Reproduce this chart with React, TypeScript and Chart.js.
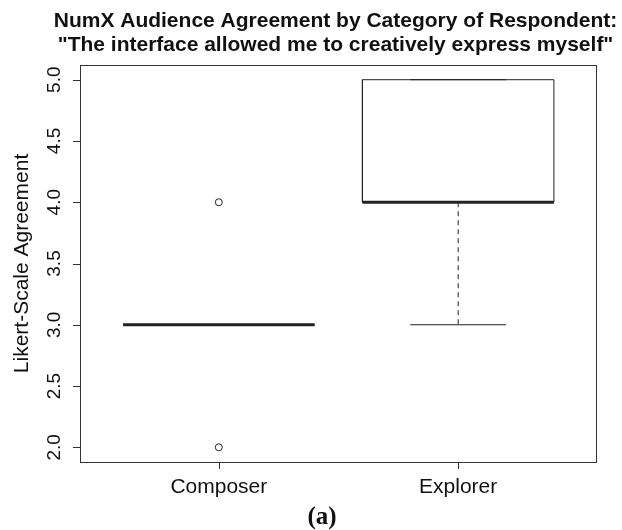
import React, { useEffect, useRef } from "react";
import { Chart, registerables } from "chart.js";

Chart.register(...registerables);

// ---- Data ----
const categories = ["Composer", "Explorer"];
const q1 = [3, 4];
const medians = [3, 4];
const q3 = [3, 5];
const whiskerLow = [3, 3];
const whiskerHigh = [3, 5];
const outliers: number[][] = [[2, 4], []];
const yTicks = [2.0, 2.5, 3.0, 3.5, 4.0, 4.5, 5.0];
const titleLines = [
  "NumX Audience Agreement by Category of Respondent:",
  '"The interface allowed me to creatively express myself"',
];
const yTitle = "Likert-Scale Agreement";
const caption = "(a)";

const BOX_HALF = 0.4;
const CAP_HALF = 0.2;
const INK = "#222";

function buildDatasets() {
  const ds: any[] = [];
  const line = (data: any[], width: number, dash: number[] = []) => ({
    type: "scatter",
    data,
    showLine: true,
    borderColor: INK,
    borderWidth: width,
    borderDash: dash,
    pointRadius: 0,
    pointHoverRadius: 0,
    fill: false,
    tension: 0,
  });
  categories.forEach((_, i) => {
    const x = i + 1;
    // outliers
    ds.push({
      type: "scatter",
      data: outliers[i].map((v) => ({ x, y: v })),
      pointRadius: 3.5,
      pointBorderWidth: 1,
      pointBackgroundColor: "#fff",
      pointBorderColor: INK,
      showLine: false,
    });
    // median
    ds.push(line([{ x: x - BOX_HALF, y: medians[i] }, { x: x + BOX_HALF, y: medians[i] }], 3));
    // box
    ds.push(
      line(
        [
          { x: x - BOX_HALF, y: q1[i] },
          { x: x + BOX_HALF, y: q1[i] },
          { x: x + BOX_HALF, y: q3[i] },
          { x: x - BOX_HALF, y: q3[i] },
          { x: x - BOX_HALF, y: q1[i] },
        ],
        1
      )
    );
    // whiskers
    if (whiskerLow[i] < q1[i]) ds.push(line([{ x, y: q1[i] }, { x, y: whiskerLow[i] }], 1, [5, 4]));
    if (whiskerHigh[i] > q3[i]) ds.push(line([{ x, y: q3[i] }, { x, y: whiskerHigh[i] }], 1, [5, 4]));
    // caps
    ds.push(line([{ x: x - CAP_HALF, y: whiskerLow[i] }, { x: x + CAP_HALF, y: whiskerLow[i] }], 1));
    ds.push(line([{ x: x - CAP_HALF, y: whiskerHigh[i] }, { x: x + CAP_HALF, y: whiskerHigh[i] }], 1));
  });
  return ds;
}

const rAxesPlugin = {
  id: "rAxes",
  afterDraw(chart: any) {
    const { ctx, chartArea: a, scales } = chart;
    const xs = scales.x;
    const ys = scales.y;
    ctx.save();
    ctx.strokeStyle = "#333";
    ctx.lineWidth = 1;
    // frame
    ctx.strokeRect(Math.round(a.left) + 0.5, Math.round(a.top) + 0.5, Math.round(a.right - a.left) - 1, Math.round(a.bottom - a.top));
    // y ticks
    ctx.fillStyle = "#111";
    ctx.font = '19px "Liberation Sans", Arial, sans-serif';
    ctx.textAlign = "center";
    ctx.textBaseline = "alphabetic";
    yTicks.forEach((v) => {
      const py = Math.round(ys.getPixelForValue(v)) + 0.5;
      ctx.beginPath();
      ctx.moveTo(a.left, py);
      ctx.lineTo(a.left - 7, py);
      ctx.stroke();
      ctx.save();
      ctx.translate(60, ys.getPixelForValue(v));
      ctx.rotate(-Math.PI / 2);
      ctx.fillText(v.toFixed(1), 0, 0);
      ctx.restore();
    });
    // x ticks
    ctx.font = '21px "Liberation Sans", Arial, sans-serif';
    categories.forEach((c, i) => {
      const px = Math.round(xs.getPixelForValue(i + 1)) + 0.5;
      ctx.beginPath();
      ctx.moveTo(px, a.bottom);
      ctx.lineTo(px, a.bottom + 7);
      ctx.stroke();
      ctx.fillText(c, xs.getPixelForValue(i + 1), 493);
    });
    // y title
    ctx.save();
    ctx.translate(28, (a.top + a.bottom) / 2);
    ctx.rotate(-Math.PI / 2);
    ctx.font = '21px "Liberation Sans", Arial, sans-serif';
    ctx.fillText(yTitle, 0, 0);
    ctx.restore();
    // title
    ctx.font = 'bold 21px "Liberation Sans", Arial, sans-serif';
    ctx.fillStyle = "#111";
    const cx = (a.left + a.right) / 2 - 3;
    ctx.fillText(titleLines[0], cx, 27);
    ctx.fillText(titleLines[1], cx, 51);
    // caption
    ctx.font = 'bold 25px "Liberation Serif", "Times New Roman", serif';
    ctx.fillText(caption, 322, 524);
    ctx.restore();
  },
};

export default function App() {
  const ref = useRef<HTMLCanvasElement>(null);
  useEffect(() => {
    document.body.style.margin = "0";
    const chart = new Chart(ref.current as HTMLCanvasElement, {
      type: "scatter",
      data: { datasets: buildDatasets() },
      options: {
        animation: false,
        responsive: false,
        devicePixelRatio: 1,
        layout: { padding: { left: 80, top: 65, right: 25, bottom: 68 } },
        scales: {
          x: { type: "linear", min: 0.42, max: 2.58, display: false },
          y: { type: "linear", min: 1.88, max: 5.12, display: false },
        },
        plugins: { legend: { display: false }, tooltip: { enabled: false }, title: { display: false } },
        events: [],
      },
      plugins: [rAxesPlugin],
    } as any);
    return () => chart.destroy();
  }, []);
  return (
    <div style={{ position: "absolute", left: 0, top: 0, width: 622, height: 530, background: "#fff" }}>
      <canvas ref={ref} width={622} height={530} />
    </div>
  );
}
